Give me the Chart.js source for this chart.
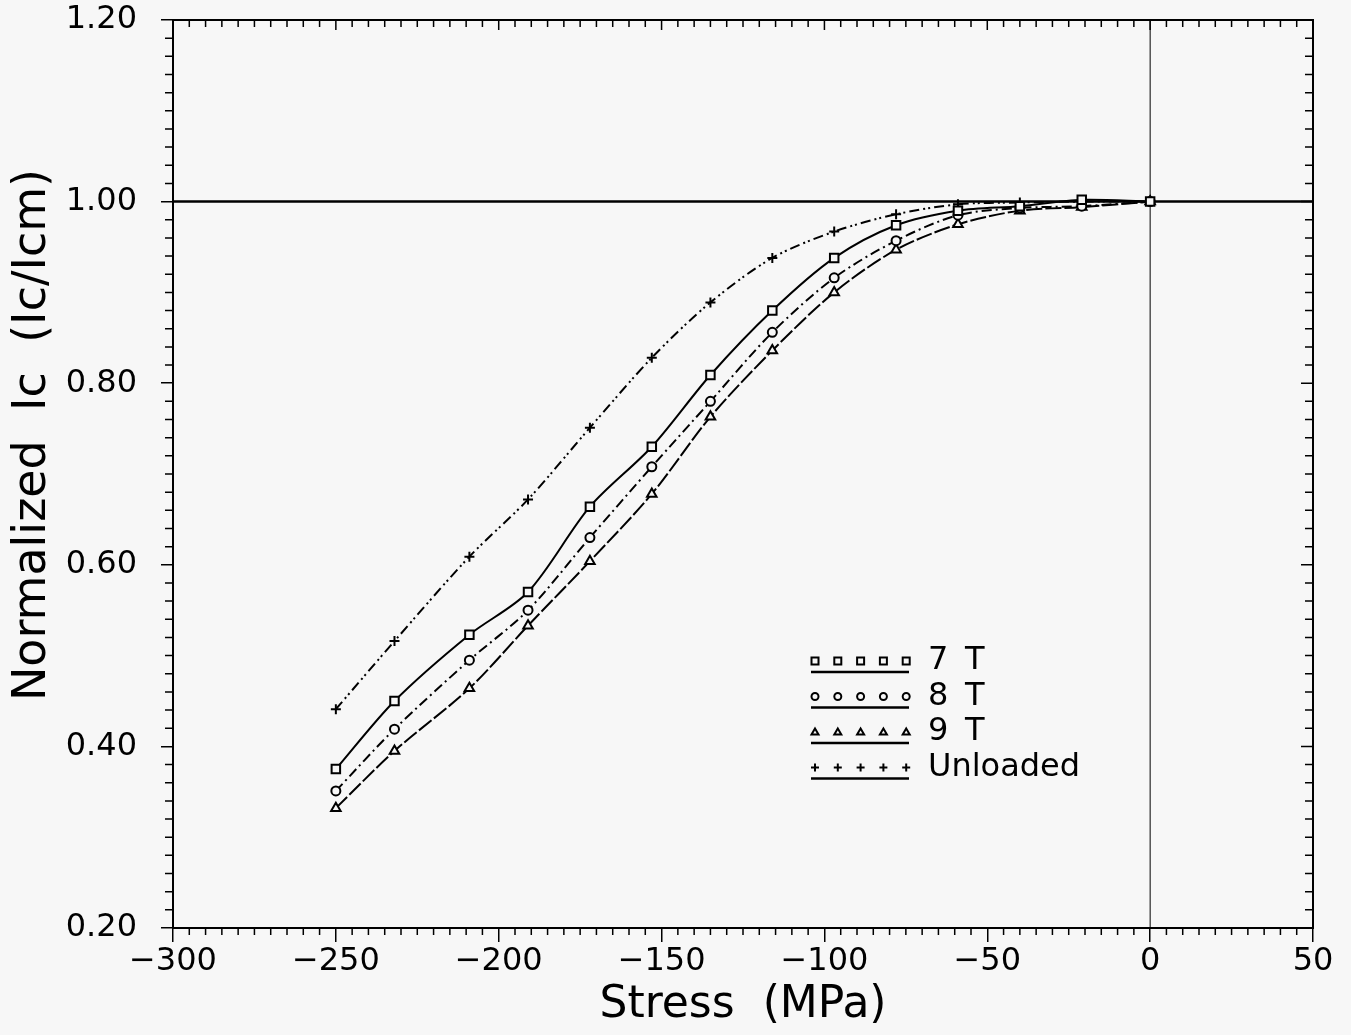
<!DOCTYPE html>
<html>
<head>
<meta charset="utf-8">
<script src="https://cdn.jsdelivr.net/npm/chart.js@4.4.0/dist/chart.umd.min.js"></script>
<style>
  html, body { margin: 0; padding: 0; background: #f7f7f7; }
  #wrap { width: 1351px; height: 1035px; position: relative; }
</style>
</head>
<body>
<div id="wrap"><canvas id="myChart"></canvas></div>
<script>
// data
var stress = [-250, -232, -209, -191, -172, -153, -135, -116, -97, -78, -59, -40, -21, 0];
var ic7T = [0.375, 0.450, 0.523, 0.570, 0.664, 0.730, 0.809, 0.880, 0.938, 0.974, 0.990, 0.995, 1.002, 1.000];
var ic8T = [0.351, 0.419, 0.495, 0.550, 0.630, 0.708, 0.780, 0.856, 0.916, 0.957, 0.985, 0.993, 0.995, 1.000];
var ic9T = [0.332, 0.395, 0.464, 0.533, 0.604, 0.678, 0.763, 0.836, 0.900, 0.947, 0.975, 0.990, 0.994, 1.000];
var icUnloaded = [0.441, 0.516, 0.609, 0.672, 0.751, 0.828, 0.889, 0.938, 0.967, 0.986, 0.997, 0.999, 1.000, 1.000];
var legendLabels = ["7  T", "8  T", "9  T", "Unloaded"];
var xMin = -300, xMax = 50, xStep = 50;
var yMin = 0.2, yMax = 1.2, yStep = 0.2;
var refLevel = 1.0;

var bg = "#f7f7f7";
var font = "'DejaVu Sans', sans-serif";

function pts(ys) {
    return stress.map(function (x, i) { return {x: x, y: ys[i]}; });
}

function series(label, ys, style, radius, dash) {
    return {
        label: label,
        data: pts(ys),
        borderColor: "#000",
        backgroundColor: bg,
        borderWidth: 2,
        borderDash: dash,
        pointStyle: style,
        pointRadius: radius,
        pointBorderWidth: 2,
        tension: 0.3,
        fill: false
    };
}

var datasets = [
    series(legendLabels[0], ic7T, "rect", 6, []),
    series(legendLabels[1], ic8T, "circle", 4.5, [10, 4, 2, 4]),
    series(legendLabels[2], ic9T, "triangle", 5.5, [16, 3]),
    series(legendLabels[3], icUnloaded, "cross", 5, [10, 4, 2, 3, 2, 4]),
    {
        label: "ref",
        data: [{x: xMin, y: refLevel}, {x: xMax, y: refLevel}],
        borderColor: "#000", borderWidth: 2.5, pointRadius: 0, fill: false
    },
    {
        label: "zero",
        data: [{x: 0, y: yMin}, {x: 0, y: yMax}],
        borderColor: "#000", borderWidth: 1, pointRadius: 0, fill: false
    }
];

function marker(ctx, style, x, y, r) {
    ctx.beginPath();
    if (style === "rect") {
        ctx.rect(x - r, y - r, 2 * r, 2 * r);
    } else if (style === "circle") {
        ctx.arc(x, y, r, 0, Math.PI * 2);
    } else if (style === "triangle") {
        ctx.moveTo(x, y - r);
        ctx.lineTo(x + r, y + r * 0.7);
        ctx.lineTo(x - r, y + r * 0.7);
        ctx.closePath();
    } else {
        ctx.moveTo(x - r, y); ctx.lineTo(x + r, y);
        ctx.moveTo(x, y - r); ctx.lineTo(x, y + r);
    }
    ctx.stroke();
}

// frame, minor ticks, y title and legend
var decor = {
    id: "decor",
    afterDraw: function (chart) {
        var ctx = chart.ctx, a = chart.chartArea;
        var xs = chart.scales.x, ys = chart.scales.y;
        ctx.save();
        ctx.strokeStyle = "#000";
        ctx.lineWidth = 2;
        ctx.strokeRect(a.left, a.top, a.right - a.left, a.bottom - a.top);

        ctx.lineWidth = 1.5;
        ctx.beginPath();
        for (var v = xMin; v <= xMax; v += 5) {
            var px = xs.getPixelForValue(v);
            var major = v % xStep === 0;
            if (!major) { ctx.moveTo(px, a.bottom); ctx.lineTo(px, a.bottom + 7); }
            ctx.moveTo(px, a.top); ctx.lineTo(px, a.top + (major ? 10 : 7));
        }
        for (var k = 0; k <= 50; k++) {
            var yv = yMin + k * 0.02;
            var py = ys.getPixelForValue(yv);
            var ymaj = k % 10 === 0;
            if (!ymaj) { ctx.moveTo(a.left - 8, py); ctx.lineTo(a.left, py); }
            ctx.moveTo(a.right - (ymaj ? 12 : 8), py); ctx.lineTo(a.right, py);
        }
        ctx.stroke();

        // y axis title
        ctx.fillStyle = "#000";
        ctx.font = "46px " + font;
        ctx.textAlign = "center";
        ctx.textBaseline = "middle";
        ctx.translate(33, 435);
        ctx.rotate(-Math.PI / 2);
        ctx.fillText("Normalized  Ic  (Ic/Icm)", 0, 0);
        ctx.restore();

        // legend
        ctx.save();
        ctx.strokeStyle = "#000";
        ctx.fillStyle = "#000";
        ctx.font = "32px " + font;
        ctx.textBaseline = "middle";
        for (var i = 0; i < 4; i++) {
            var ds = chart.data.datasets[i];
            var ry = 661 + i * 35.5;
            ctx.lineWidth = 2;
            for (var j = 0; j < 5; j++) {
                marker(ctx, ds.pointStyle, 815 + j * 22.8, ry, ds.pointStyle === "cross" ? 4 : 3.5);
            }
            ctx.lineWidth = 2.5;
            ctx.beginPath();
            ctx.moveTo(811, ry + 11); ctx.lineTo(909, ry + 11);
            ctx.stroke();
            var parts = ds.label.split("  ");
            ctx.textAlign = "left";
            ctx.fillText(parts[0], 928, ry);
            if (parts[1]) ctx.fillText(parts[1], 965, ry);
        }
        ctx.restore();
    }
};

var ctx = document.getElementById("myChart").getContext("2d");
var chart = new Chart(ctx, {
    type: "line",
    data: {datasets: datasets},
    options: {
        responsive: true,
        maintainAspectRatio: false,
        animation: false,
        layout: {padding: {top: 20, right: 38, left: 0, bottom: 0}},
        plugins: {legend: {display: false}, tooltip: {enabled: false}},
        scales: {
            x: {
                type: "linear",
                min: xMin, max: xMax,
                grid: {drawOnChartArea: false, tickLength: 14, color: "#000", lineWidth: 1.5},
                border: {display: true, color: "#000", width: 2},
                ticks: {
                    stepSize: xStep, color: "#000", padding: 0, maxRotation: 0,
                    font: {family: font, size: 32},
                    callback: function (v) { return String(v).replace("-", "\u2212"); }
                },
                title: {
                    display: true, text: "Stress  (MPa)", color: "#000",
                    font: {family: font, size: 44}, padding: {top: 0, bottom: 3}
                },
                afterFit: function (s) {
                    s.height = 107;
                    s.paddingLeft = 0;
                    s.paddingRight = 0;
                }
            },
            y: {
                min: yMin, max: yMax,
                grid: {drawOnChartArea: false, tickLength: 12, color: "#000", lineWidth: 1.5},
                border: {display: true, color: "#000", width: 2},
                ticks: {
                    stepSize: yStep, color: "#000", padding: 24,
                    font: {family: font, size: 32},
                    callback: function (v) { return v.toFixed(2); }
                },
                afterFit: function (s) {
                    s.width = 173;
                    s.paddingTop = 0;
                    s.paddingBottom = 0;
                }
            }
        }
    },
    plugins: [decor]
});
</script>
</body>
</html>
